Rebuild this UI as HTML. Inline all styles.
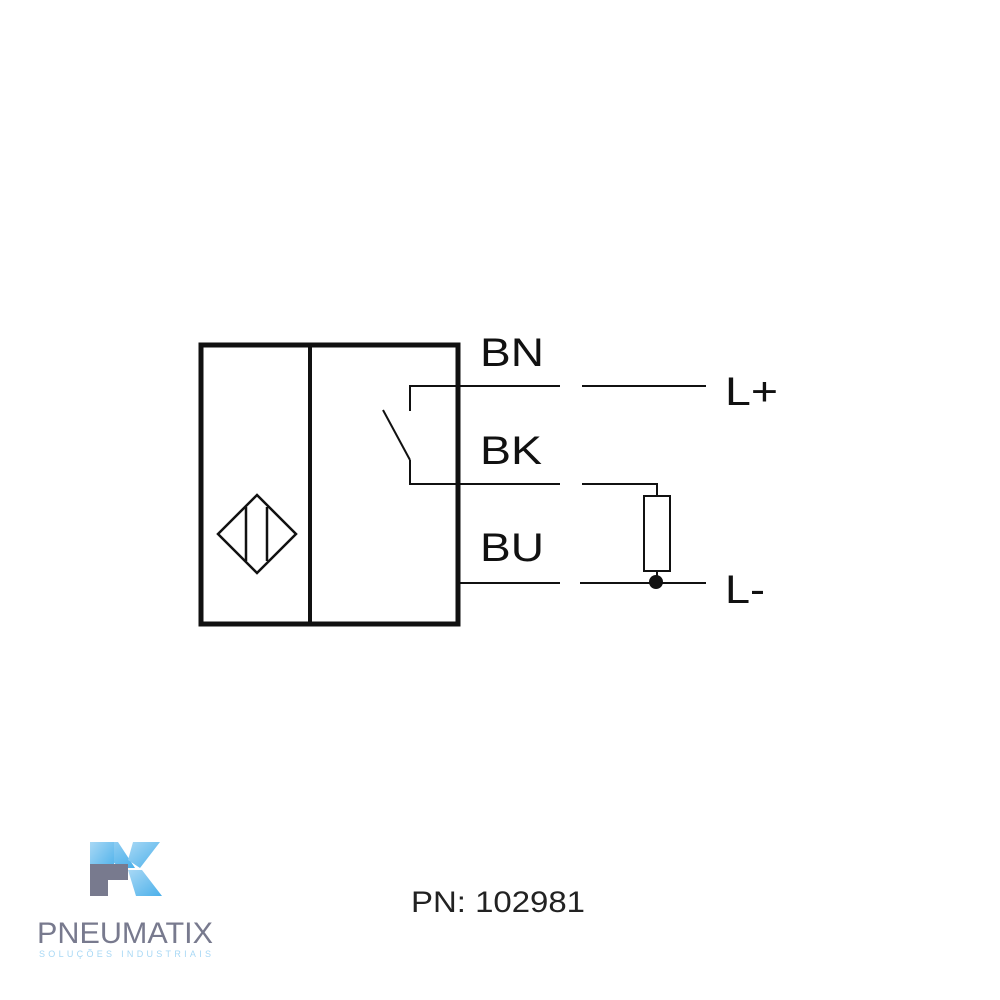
<!DOCTYPE html>
<html><head><style>
body{margin:0;background:#fff;}
svg{display:block}
</style></head><body>
<svg width="1000" height="1000" viewBox="0 0 1000 1000" xmlns="http://www.w3.org/2000/svg">
<rect width="1000" height="1000" fill="#fff"/>
<g fill="none" stroke="#111">
<rect x="201" y="345" width="257" height="279" stroke-width="5"/>
<line x1="310" y1="345" x2="310" y2="624" stroke-width="4"/>
<polygon points="218,534 257,495 296,534 257,573" stroke-width="2.5"/>
<line x1="246" y1="507" x2="246" y2="561" stroke-width="2.5"/>
<line x1="267" y1="507" x2="267" y2="561" stroke-width="2.5"/>
<g stroke-width="2">
<polyline points="410,411 410,386 560,386"/>
<line x1="582" y1="386" x2="706" y2="386"/>
<line x1="383" y1="410" x2="410" y2="460"/>
<polyline points="410,460 410,484 560,484"/>
<polyline points="582,484 657,484 657,496"/>
<rect x="644" y="496" width="26" height="75"/>
<line x1="657" y1="571" x2="657" y2="583"/>
<line x1="460" y1="583" x2="560" y2="583"/>
<line x1="580" y1="583" x2="706" y2="583"/>
</g>
</g>
<circle cx="656" cy="582" r="7" fill="#111"/>
<g font-family="Liberation Sans, sans-serif" font-size="40" fill="#111">
<text x="480" y="366" textLength="64" lengthAdjust="spacingAndGlyphs">BN</text>
<text x="480" y="464" textLength="62" lengthAdjust="spacingAndGlyphs">BK</text>
<text x="480" y="561" textLength="64" lengthAdjust="spacingAndGlyphs">BU</text>
<text x="725" y="405" textLength="53" lengthAdjust="spacingAndGlyphs">L+</text>
<text x="725" y="603" textLength="40" lengthAdjust="spacingAndGlyphs">L-</text>
</g>
<text x="411" y="912" font-family="Liberation Sans, sans-serif" font-size="30" fill="#222" textLength="174" lengthAdjust="spacingAndGlyphs">PN: 102981</text>
<defs><linearGradient id="g" x1="0" y1="0" x2="1" y2="1"><stop offset="0" stop-color="#a8d8f5"/><stop offset="1" stop-color="#4bb0ea"/></linearGradient></defs>
<polygon points="90,842 118,842 135,868 120,868" fill="url(#g)"/>
<polygon points="133,842 160,842 140,868 128,860" fill="url(#g)"/>
<polygon points="128,870 142,870 162,896 136,896" fill="url(#g)"/>
<path d="M90,842 h24 v30 h-24z" fill="url(#g)"/>
<path d="M90,864 h38 v16 h-20 v16 h-18z" fill="#787a8e"/>
<text x="37" y="943" font-family="Liberation Sans, sans-serif" font-size="30" fill="#787a8e" textLength="176" lengthAdjust="spacingAndGlyphs">PNEUMATIX</text>
<text x="39" y="957" font-family="Liberation Sans, sans-serif" font-size="9" fill="#a8d8f5" textLength="172" lengthAdjust="spacing">SOLUÇÕES INDUSTRIAIS</text>
</svg>
</body></html>
